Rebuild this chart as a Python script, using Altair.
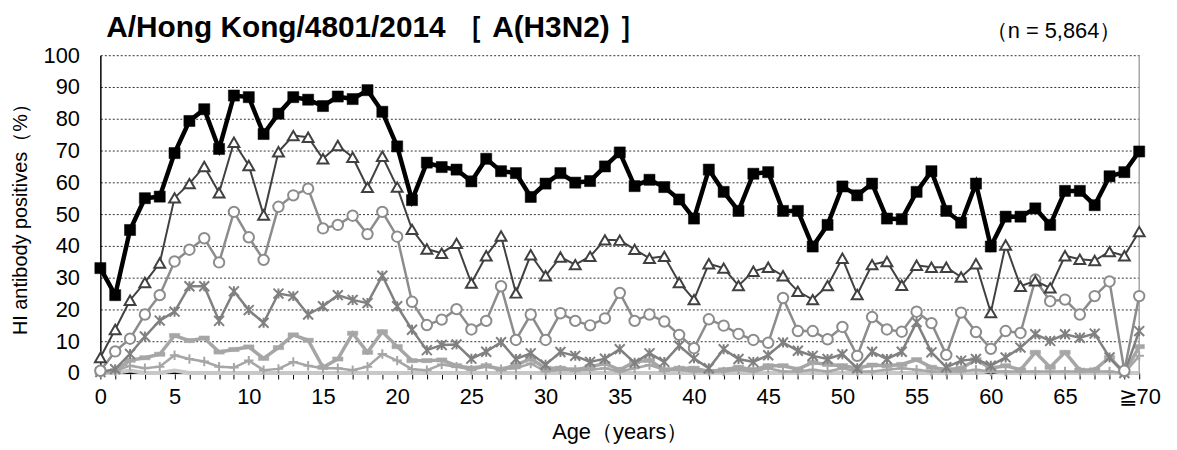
import altair as alt
import pandas as pd

# ---------------- data ----------------
ages = list(range(71))
x_tick_values = [0, 5, 10, 15, 20, 25, 30, 35, 40, 45, 50, 55, 60, 65, 70]
x_tick_labels = ["0", "5", "10", "15", "20", "25", "30", "35", "40", "45", "50", "55", "60", "65", "≧70"]
y_tick_values = [0, 10, 20, 30, 40, 50, 60, 70, 80, 90, 100]

title_text = "A/Hong Kong/4801/2014 ［ A(H3N2) ］"
n_text = "（n = 5,864）"
x_title = "Age（years）"
y_title = "HI antibody positives（%）"

t10 = [33, 24.5, 45, 55, 55.5, 69.2, 79.3, 83, 70.5, 87.3, 86.8, 75.2, 81.6, 86.8, 86, 84, 87, 86.2, 89, 82.2,
       71.3, 54.4, 66.2, 64.8, 64, 60.3, 67.4, 63.5, 62.9, 55.4, 59.6, 62.9, 59.9, 60.4, 65, 69.4, 58.8, 60.8, 58.5, 54.6,
       48.6, 64, 57, 51, 62.7, 63.2, 51, 51, 39.8, 46.6, 58.7, 55.9, 59.6, 48.6, 48.4, 57, 63.5, 51, 47.3, 59.6,
       39.8, 49.2, 49.2, 51.8, 46.6, 57.3, 57.3, 52.8, 61.9, 63.2, 69.7]
t20 = [4.9, 13.7, 22.9, 28.5, 34.6, 55.1, 59.6, 65, 56.7, 72.6, 65.3, 49.7, 69.6, 74.7, 74.2, 67.4, 71.6, 67.9, 58.4, 68.2,
       58.5, 45.2, 39, 37.7, 40.8, 28.3, 36.9, 43.1, 25.2, 37.2, 30.6, 36.5, 34.1, 36.7, 41.9, 41.8, 38.9, 36.1, 36.7, 28.5,
       23.1, 34.4, 33, 27.5, 32, 33.3, 30.6, 25.7, 23.1, 27.5, 36.1, 24.7, 34.1, 35.1, 27.6, 33.9, 33.3, 33.3, 30.2, 34.4,
       19, 40.3, 27.3, 29, 26.8, 36.9, 35.8, 35.4, 38.2, 36.9, 44.5]
t40 = [0.7, 6.8, 10.8, 18.4, 24.5, 35.1, 38.8, 42.4, 34.8, 50.7, 42.7, 35.6, 52.3, 55.9, 58, 45.5, 46.6, 49.5, 43.7, 50.7,
       42.9, 22.4, 15.1, 16.8, 20.1, 13.7, 16.4, 27.3, 10.4, 18.4, 10.4, 18.8, 16.4, 15, 17.2, 25.2, 16.4, 18.4, 16.2, 12,
       7.8, 16.9, 14.9, 12.3, 10.4, 9.5, 23.6, 13.2, 13.2, 10.6, 14.5, 5.4, 17.6, 13.7, 13, 19.3, 15.7, 5.7, 19, 12.9,
       7.6, 13.2, 12.6, 29.4, 22.6, 23.1, 18.4, 24.2, 28.8, 0.7, 24.2]
t80 = [0.3, 1.2, 6, 11.5, 16.5, 19.3, 27.3, 27.3, 16.4, 25.7, 19.8, 15.8, 25, 24.2, 18.4, 21, 24.5, 23, 22, 30.6,
       21, 13.6, 7.2, 8.8, 9, 4.5, 6.7, 9.7, 4.4, 6.2, 2.6, 6.6, 5.4, 3.5, 4.5, 7.5, 3.2, 6.2, 3.5, 8.6,
       4.6, 1.5, 7.5, 4.4, 3.5, 5.6, 9.6, 7, 5.4, 4.4, 5.9, 1.5, 6.7, 4.4, 6.7, 16, 6.5, 1.8, 3.9, 4.4,
       2.3, 4.9, 8, 12.2, 10.1, 12.2, 11.1, 12.4, 4.9, 0, 13.2]
t160 = [0, 0.7, 4, 4.8, 5.9, 11.8, 10.2, 11, 6.6, 7.4, 8.2, 4.6, 8, 12, 10.3, 1.8, 4.4, 12.5, 6.5, 13,
        8.3, 3.9, 3.9, 4.1, 2.3, 1.5, 2.3, 1.2, 2.5, 4.5, 1.5, 1.5, 1, 2, 3, 1, 3.5, 4, 1, 1.5,
        1.5, 0.5, 1, 1.8, 1, 2.3, 2.3, 1.2, 3.3, 2.7, 2.3, 1.5, 2.5, 2.3, 2.7, 4.2, 1.8, 1, 1.5, 4.2,
        1.5, 2.3, 1, 6.5, 1.8, 6.5, 0.9, 1, 4.9, 0, 8.3]
t320 = [0, 0.6, 2.3, 1.5, 2, 5.6, 4.4, 3.6, 2, 1.7, 3.9, 0.9, 1.3, 3.5, 2.3, 1.5, 1.5, 0.9, 2, 6,
        3.9, 1.2, 0.9, 2.7, 2, 1, 2, 1.2, 1.5, 3, 0.5, 1, 1, 1, 1.5, 0.5, 1.5, 2.5, 1, 1,
        0.5, 0.5, 0.5, 1, 0.5, 1.5, 0.5, 0.5, 1, 0.5, 1.5, 0.5, 0.5, 1, 1.5, 1, 0.5, 0.5, 0.5, 1,
        0.5, 0.5, 0.5, 0.5, 0.5, 0.5, 0.5, 0.5, 0.5, 0, 5.4]
t640 = [0, 0, 0.8, 0, 0, 0.8, 0, 0, 0, 0, 0, 0, 0, 0, 0, 0, 0, 0, 0, 0,
        0, 0, 0, 0, 0, 0, 0, 0, 0, 0, 0, 0, 0, 0, 0, 0, 0, 0, 0, 0,
        0, 0, 0, 0, 0, 0, 0, 0, 0, 0, 0, 0, 0, 0, 0, 0, 0, 0, 0, 0,
        0.6, 0, 0, 0, 0, 0, 0, 0, 0, 0, 0]
t1280 = [0, 0, 0, 0, 0, 0, 0, 0, 0, 0, 0, 0, 0, 0, 0, 0, 0, 0, 0, 0,
         0, 0, 0, 0, 0, 0, 0, 0, 0, 0, 0, 0, 0, 0, 0, 0, 0, 0, 0, 0,
         0, 0, 0, 0, 0, 0, 0, 0, 0, 0, 0, 0, 0, 0, 0, 0, 0, 0, 0, 0,
         0, 0, 0, 0, 0, 0, 0, 0, 0, 0, 0]

series_names = ["≥1:1280", "≥1:640", "≥1:320", "≥1:160", "≥1:80", "≥1:40", "≥1:20", "≥1:10"]
series_values = [t1280, t640, t320, t160, t80, t40, t20, t10]

# ---------------- styles ----------------
ASTER = "M-1,-1L1,1M-1,1L1,-1M0,-1L0,1"
PLUS = "M-1,0L1,0M0,-1L0,1"
DASH = "M-1,-0.4L1,-0.4L1,0.4L-1,0.4Z"
styles = {
    "≥1:1280": dict(color="#000000", width=2.0, shape=None),
    "≥1:640": dict(color="#c8c8c8", width=4.0, shape=None),
    "≥1:320": dict(color="#a6a6a6", width=2.5, shape=PLUS, size=90, kind="stroke"),
    "≥1:160": dict(color="#a6a6a6", width=3.5, shape=DASH, size=110, kind="fill"),
    "≥1:80": dict(color="#808080", width=2.5, shape=ASTER, size=100, kind="stroke"),
    "≥1:40": dict(color="#8c8c8c", width=2.5, shape="circle", size=110, kind="hollow"),
    "≥1:20": dict(color="#404040", width=2.0, shape="triangle-up", size=120, kind="hollow"),
    "≥1:10": dict(color="#000000", width=4.5, shape="square", size=125, kind="fill"),
}

label_map = ", ".join(f"'{v}': '{l}'" for v, l in zip(x_tick_values, x_tick_labels))
label_expr = f"({{{label_map}}})[datum.value] || ''"

FONT = "Liberation Sans"

x_enc = alt.X(
    "age:Q",
    scale=alt.Scale(domain=[0, 70], nice=False, zero=False),
    axis=alt.Axis(
        values=ages, labelExpr=label_expr, labelFlush=False, labelOverlap=False, grid=False,
        tickSize=6, tickColor="black", tickWidth=1, domainColor="#bfbfbf", domainWidth=2,
        labelFontSize=22, labelPadding=8, labelColor="black", labelFont=FONT,
        title=x_title, titleFontSize=22, titleFont=FONT, titleFontWeight="normal",
        titleColor="black", titlePadding=14,
    ),
)
y_enc = alt.Y(
    "value:Q",
    scale=alt.Scale(domain=[0, 100], nice=False),
    axis=alt.Axis(
        values=y_tick_values, grid=True, gridDash=[2, 2], gridColor="#333333", gridWidth=1,
        ticks=False, labelFontSize=22, labelPadding=21, labelColor="black", labelFont=FONT,
        domainColor="black", domainWidth=1.5,
        title=y_title, titleFontSize=20, titleFont=FONT, titleFontWeight="normal",
        titleColor="black", titleAngle=270, titleBaseline="alphabetic", titleAlign="center",
        titleX=-74, titleY=160,
    ),
)

layers = []
# right border
border_df = pd.DataFrame({"age": [70], "value": [0], "value2": [100]})
layers.append(
    alt.Chart(border_df).mark_rule(color="#a6a6a6", strokeWidth=1.5).encode(
        x=x_enc, y=y_enc, y2="value2:Q"
    )
)

for name, vals in zip(series_names, series_values):
    df = pd.DataFrame({"age": ages, "value": vals})
    st = styles[name]
    base = alt.Chart(df)
    layers.append(
        base.mark_line(color=st["color"], strokeWidth=st["width"], strokeJoin="miter").encode(x=x_enc, y=y_enc)
    )
    if st["shape"] is not None:
        if st["kind"] == "stroke":
            pm = base.mark_point(shape=st["shape"], size=st["size"], filled=False,
                                 stroke=st["color"], strokeWidth=2, opacity=1)
        elif st["kind"] == "hollow":
            pm = base.mark_point(shape=st["shape"], size=st["size"], filled=True, fill="white",
                                 stroke=st["color"], strokeWidth=2, opacity=1, fillOpacity=1)
        else:
            pm = base.mark_point(shape=st["shape"], size=st["size"], filled=True,
                                 fill=st["color"], stroke=st["color"], strokeWidth=0.5, opacity=1)
        layers.append(pm.encode(x=x_enc, y=y_enc))

title_layer = alt.Chart(pd.DataFrame({"t": [title_text]})).mark_text(
    align="left", baseline="alphabetic", font=FONT, fontSize=30, fontWeight="bold", color="black"
).encode(text="t:N", x=alt.value(6), y=alt.value(-18))

n_layer = alt.Chart(pd.DataFrame({"t": [n_text]})).mark_text(
    align="right", baseline="alphabetic", font=FONT, fontSize=22, color="black"
).encode(text="t:N", x=alt.value(1028), y=alt.value(-17))

chart = alt.layer(*layers, title_layer, n_layer).properties(
    width=1046,
    height=320,
    autosize=alt.AutoSizeParams(type="none"),
    padding={"left": 93, "top": 46, "right": 30, "bottom": 76},
    background="white",
).configure_view(stroke=None)

chart.save("out.html", embed_options={"renderer": "svg", "actions": False})
